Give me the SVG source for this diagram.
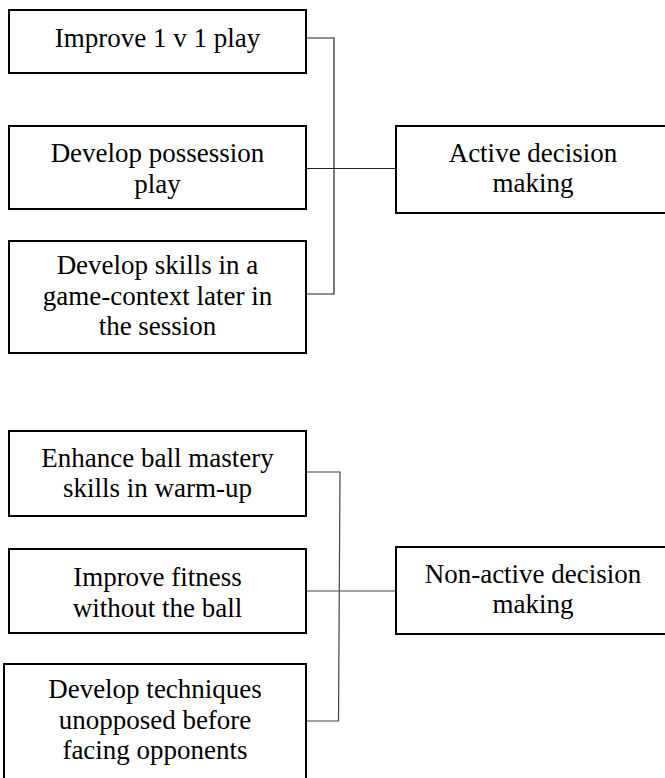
<svg xmlns="http://www.w3.org/2000/svg" width="665" height="778" viewBox="0 0 665 778">
<style>
.box{fill:#fff;stroke:#000;stroke-width:2}
text{font-family:'Liberation Serif','Times New Roman',Times,'DejaVu Serif',serif;font-size:27px;fill:#000;text-anchor:middle}
.c{fill:none;stroke:#222;stroke-width:1.2}
.c2{fill:none;stroke:#444;stroke-width:1.2}
</style>
<rect width="665" height="778" fill="#fff"/>
<g id="connectors">
<polyline class="c" points="306,38 334,38 334,294 306,294"/>
<line class="c" x1="306" y1="168.5" x2="396" y2="168.5"/>
<polyline class="c2" points="306,472 340,472 338.5,721 306,721"/>
<line class="c2" x1="306" y1="591" x2="396" y2="591"/>
</g>
<g id="n1"><rect class="box" x="9" y="10" width="297" height="63"/><text font-family="Liberation Serif, serif" x="157.5" y="47">Improve 1 v 1 play</text></g>
<g id="n2"><rect class="box" x="9" y="126" width="297" height="83"/><text x="157.5" y="162">Develop possession</text><text x="157.5" y="192.5">play</text></g>
<g id="n3"><rect class="box" x="9" y="241" width="297" height="112"/><text x="157.5" y="274">Develop skills in a</text><text x="157.5" y="304.5">game-context later in</text><text x="157.5" y="335">the session</text></g>
<g id="n4"><rect class="box" x="396" y="126" width="274" height="87"/><text x="533" y="162">Active decision</text><text x="533" y="192">making</text></g>
<g id="n5"><rect class="box" x="9" y="431" width="297" height="85"/><text x="157.5" y="467">Enhance ball mastery</text><text x="157.5" y="497">skills in warm-up</text></g>
<g id="n6"><rect class="box" x="9" y="549" width="297" height="84"/><text x="157.5" y="586">Improve fitness</text><text x="157.5" y="616.5">without the ball</text></g>
<g id="n7"><rect class="box" x="4" y="664" width="302" height="126"/><text x="155" y="698">Develop techniques</text><text x="155" y="728.5">unopposed before</text><text x="155" y="759">facing opponents</text></g>
<g id="n8"><rect class="box" x="396" y="547" width="274" height="87"/><text x="533" y="583">Non-active decision</text><text x="533" y="613">making</text></g>
</svg>
